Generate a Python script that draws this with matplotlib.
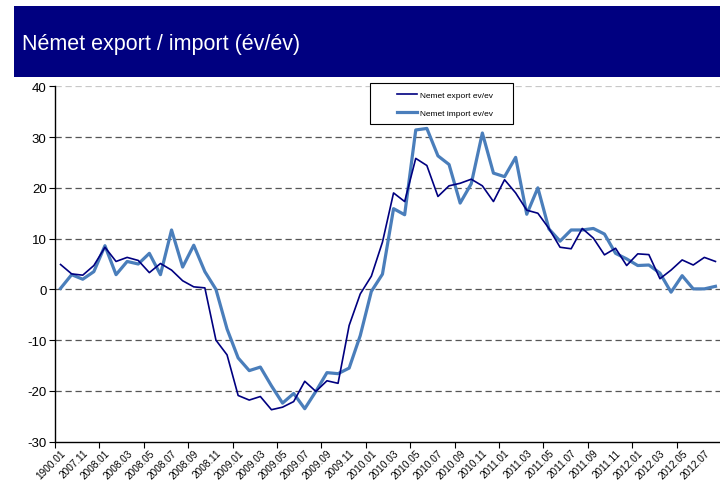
import matplotlib
matplotlib.use("Agg")
import matplotlib.pyplot as plt
from matplotlib.patches import Rectangle
from matplotlib.ticker import FixedLocator, NullFormatter

plt.rcParams['font.family'] = ['Liberation Sans', 'DejaVu Sans']
plt.rcParams['axes.unicode_minus'] = False

# Monthly categories (first label comes through as a placeholder date)
months = ["1900.01"] + [f"{y}.{m:02d}" for y in range(2007, 2013) for m in range(1, 13)
                        if (y, m) >= (2007, 10) and (y, m) <= (2012, 8)]

export_yoy = [4.9, 3.05, 2.8, 4.7, 8.3, 5.5, 6.3, 5.7, 3.3, 5.1,
              3.8, 1.7, 0.5, 0.3, -10.0, -12.9, -20.9, -21.8, -21.1, -23.7,
              -23.2, -22.1, -18.1, -20.1, -18.0, -18.5, -7.1, -0.9, 2.6, 9.3,
              19.0, 17.3, 25.8, 24.4, 18.3, 20.4, 20.9, 21.7, 20.4, 17.3,
              21.6, 19.0, 15.6, 15.0, 12.0, 8.3, 8.0, 12.0, 10.1, 6.8,
              8.1, 4.7, 7.0, 6.85, 2.1, 3.8, 5.8, 4.8, 6.3, 5.5]

import_yoy = [0.2, 2.9, 2.0, 3.5, 8.6, 2.9, 5.5, 5.0, 7.1, 2.9,
              11.7, 4.4, 8.7, 3.5, 0.0, -7.8, -13.5, -16.0, -15.3, -19.0,
              -22.4, -20.5, -23.5, -20.1, -16.4, -16.6, -15.5, -9.1, -0.4, 3.0,
              15.9, 14.7, 31.4, 31.7, 26.3, 24.6, 17.0, 20.8, 30.8, 22.9,
              22.2, 26.0, 14.8, 20.0, 11.9, 9.5, 11.7, 11.7, 12.0, 10.9,
              7.1, 6.0, 4.7, 4.8, 3.2, -0.55, 2.7, 0.1, 0.1, 0.6]

y_ticks = [-30, -20, -10, 0, 10, 20, 30, 40]

title = "Német export / import (év/év)"
label_export = "Nemet export ev/ev"
label_import = "Nemet import ev/ev"

NAVY = "#000080"
BLUE = "#4A7EBB"

W, H = 720, 481
fig = plt.figure(figsize=(W / 100, H / 100), dpi=100)

# Title banner
fig.patches.append(Rectangle((14 / W, 1 - 78 / H), (W - 14) / W, 71 / H,
                             transform=fig.transFigure, facecolor=NAVY,
                             edgecolor="none", zorder=0))
fig.text(22 / W, 1 - 45 / H, title, color="white", fontsize=15.5,
         ha="left", va="center")

ax = fig.add_axes([55 / W, 38.3 / H, 666 / W, (442.7 - 87.3) / H])
x = list(range(len(months)))

for v in y_ticks[1:]:
    ax.axhline(v, color="#c8c8c8" if v == 40 else "#555555", lw=0.9,
               ls=(0, (5, 3)), zorder=1)

ax.plot(x, export_yoy, color=NAVY, lw=1.2, label=label_export, zorder=3)
ax.plot(x, import_yoy, color=BLUE, lw=2.3, label=label_import, zorder=2)

ax.set_xlim(-0.5, len(months) - 0.5)
ax.set_ylim(-30, 40)
ax.set_yticks(y_ticks)
ax.tick_params(axis="y", labelsize=9.5, length=4, width=0.8, pad=2, colors="black")

ax.set_xticks(x[::2])
ax.set_xticklabels(months[::2], rotation=45, ha="right", rotation_mode="anchor",
                   fontsize=7.2)
ax.tick_params(axis="x", which="major", length=0, pad=4)
ax.xaxis.set_minor_locator(FixedLocator([i - 0.5 for i in range(0, len(months), 4)]))
ax.xaxis.set_minor_formatter(NullFormatter())
ax.tick_params(axis="x", which="minor", length=4, width=0.8)

for s in ("top", "right"):
    ax.spines[s].set_visible(False)
for s in ("left", "bottom"):
    ax.spines[s].set_linewidth(1.0)
    ax.spines[s].set_color("black")

# Legend box with its entries inset
ax.add_patch(Rectangle((370 / W, 1 - 125 / H), 143 / W, 41 / H,
                       transform=fig.transFigure, facecolor="white",
                       edgecolor="black", lw=0.8, zorder=4, clip_on=False))
leg = ax.legend(loc="center left", bbox_to_anchor=(397 / W, 1 - 105 / H),
                bbox_transform=fig.transFigure, fontsize=6, frameon=False,
                handlelength=2.4, handletextpad=0.35, labelspacing=1.25,
                borderpad=0, borderaxespad=0)
leg.set_zorder(5)

fig.savefig("out.png", dpi=100)
